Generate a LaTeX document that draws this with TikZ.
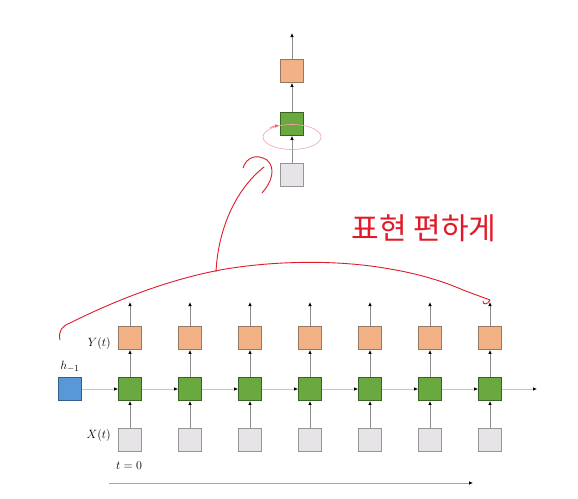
\documentclass[tikz,border=0pt]{standalone}
\usepackage{fontspec}
\newfontfamily\kr{Noto Sans CJK KR}
\usetikzlibrary{arrows.meta}
\definecolor{ofill}{RGB}{243,178,133}
\definecolor{odraw}{RGB}{150,120,100}
\definecolor{gfill}{RGB}{106,168,64}
\definecolor{gdraw}{RGB}{55,100,35}
\definecolor{xfill}{RGB}{230,228,230}
\definecolor{xdraw}{RGB}{150,150,150}
\definecolor{bfill}{RGB}{88,152,214}
\definecolor{bdraw}{RGB}{50,95,140}
\definecolor{pen}{RGB}{225,25,40}
\begin{document}
\begin{tikzpicture}[x=1pt,y=-1pt,
  cell/.style={draw, line width=0.8pt, minimum size=23pt, inner sep=0pt},
  xbox/.style={cell, fill=xfill, draw=xdraw},
  gbox/.style={cell, fill=gfill, draw=gdraw},
  ybox/.style={cell, fill=ofill, draw=odraw},
  hbox/.style={cell, fill=bfill, draw=bdraw},
  arr/.style={draw=gray!90, line width=0.7pt, -{Latex[length=4pt,width=3.5pt,fill=black,color=black]}},
  harr/.style={draw=gray!45, line width=0.7pt, -{Latex[length=4pt,width=3.5pt,fill=black,color=black]}},
  lbl/.style={font=\fontsize{13}{15}\selectfont, inner sep=1pt},
  ink/.style={draw=pen, line width=0.9pt, line cap=round, line join=round}]
\useasboundingbox (0,0) rectangle (578,498);
\fill[white] (0,0) rectangle (578,498);

% top folded cell
\node[xbox] (tx) at (292,175) {};
\node[gbox] (tg) at (292,124) {};
\node[ybox] (ty) at (292,71) {};
\coordinate (to) at (292,33);
\draw[arr] (tx) -- (tg);
\draw[arr] (tg) -- (ty);
\draw[arr] (ty) -- (to);
\draw[pen!40, line width=0.6pt] (292,137) ellipse [x radius=29, y radius=12.5];
\draw[pen!70, line width=0.6pt, -{Latex[length=4pt,width=3.5pt]}] (270,127.5) -- (279,125);

% unrolled row
\node[hbox] (h) at (70,389) {};
\node[lbl] (hl) at (70,367) {$h_{-1}$};
\foreach \i in {1,...,7}{
  \pgfmathsetmacro\xx{70+60*\i}
  \node[xbox] (x\i) at (\xx,440) {};
  \node[gbox] (g\i) at (\xx,389) {};
  \node[ybox] (y\i) at (\xx,338) {};
  \coordinate (o\i) at (\xx,302);
  \draw[arr] (x\i) -- (g\i);
  \draw[arr] (g\i) -- (y\i);
  \draw[arr] (y\i) -- (o\i);
}
\draw[harr] (h) -- (g1);
\foreach \i/\j in {1/2,2/3,3/4,4/5,5/6,6/7}{\draw[harr] (g\i) -- (g\j);}
\coordinate (gend) at (537,389);
\draw[harr] (g7) -- (gend);

\node[lbl, anchor=east] (yl) at (112,343) {$Y(t)$};
\node[lbl, anchor=east] (xl) at (112,435) {$X(t)$};
\node[lbl] (tl) at (129,466) {$t=0$};
\coordinate (ta) at (109,483);
\coordinate (tb) at (473,483);
\draw[arr, draw=gray!70] (ta) -- (tb);

% red handwriting
\draw[ink] (60,340) .. controls (58,331) and (62,326) .. (70,323)
  .. controls (120,298) and (170,280) .. (215,271)
  .. controls (260,262) and (330,258) .. (390,269)
  .. controls (420,274) and (445,282) .. (463,290)
  -- (490,300) .. controls (488,305) and (482,305) .. (483,301);
\draw[ink] (216,272) .. controls (218,230) and (235,190) .. (264,167);
\draw[ink] (243,168) .. controls (246,158) and (256,153) .. (267,160)
  .. controls (276,168) and (272,182) .. (262,193);
\node[text=pen, font=\kr\fontsize{30}{33}\selectfont] (note) at (424,228) {표현 편하게};
\end{tikzpicture}
\end{document}
